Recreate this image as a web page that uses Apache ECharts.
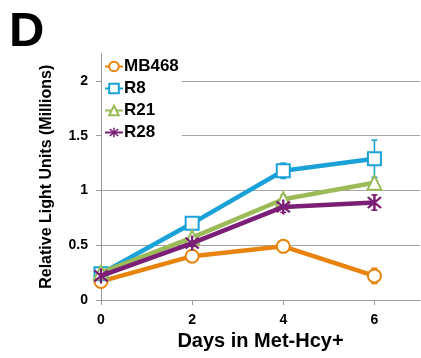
<!DOCTYPE html>
<html>
<head>
<meta charset="utf-8">
<script src="https://cdn.jsdelivr.net/npm/echarts@6/dist/echarts.min.js"></script>
<style>
  html, body { margin: 0; padding: 0; background: #fff; }
  #chart { width: 421px; height: 358px; }
</style>
</head>
<body>
<div id="chart"></div>
<script>
// Days in Met-Hcy+ medium
const days = [0, 2, 4, 6];
const xTicks = [0, 2, 4, 6];
const yTicks = [0, 0.5, 1, 1.5, 2];

// Relative light units (millions), mean values per line
const seriesNames = ['MB468', 'R8', 'R21', 'R28'];
const mb468 = [0.17, 0.40, 0.49, 0.22];
const r8 = [0.24, 0.70, 1.18, 1.29];
const r21 = [0.25, 0.57, 0.92, 1.07];
const r28 = [0.22, 0.52, 0.85, 0.89];

// Error (± one deviation) at each day
const mb468Err = [0.02, 0.02, 0.02, 0.07];
const r8Err = [0.02, 0.03, 0.07, 0.17];
const r21Err = [0.02, 0.03, 0.04, 0.03];
const r28Err = [0.02, 0.03, 0.05, 0.07];

const colors = ['#E8840E', '#19A1D8', '#9BBB59', '#7A1E76'];
const FONT = '"Liberation Sans", Arial, sans-serif';

// asterisk marker: vertical bar plus two diagonals
const asterisk = 'path://M-1,-8 L1,-8 L1,8 L-1,8 Z ' +
  'M-6.5,-5 L-5,-6.5 L6.5,5 L5,6.5 Z ' +
  'M5,-6.5 L6.5,-5 L-5,6.5 L-6.5,5 Z';

const symbols = ['circle', 'rect', 'triangle', asterisk];
const symbolSizes = [13, 13, 14, 15];
const values = [mb468, r8, r21, r28];
const errors = [mb468Err, r8Err, r21Err, r28Err];

function pairs(vals) {
  return days.map((d, i) => [d, vals[i]]);
}

function errData(vals, errs) {
  return days.map((d, i) => [d, vals[i] - errs[i], vals[i] + errs[i]]);
}

function errRender(color) {
  return function (params, api) {
    const x = api.value(0);
    const lo = api.coord([x, api.value(1)]);
    const hi = api.coord([x, api.value(2)]);
    const cap = 3;
    const style = { stroke: color, lineWidth: 1.6 };
    return {
      type: 'group',
      children: [
        { type: 'line', shape: { x1: lo[0], y1: lo[1], x2: hi[0], y2: hi[1] }, style: style },
        { type: 'line', shape: { x1: hi[0] - cap, y1: hi[1], x2: hi[0] + cap, y2: hi[1] }, style: style },
        { type: 'line', shape: { x1: lo[0] - cap, y1: lo[1], x2: lo[0] + cap, y2: lo[1] }, style: style }
      ]
    };
  };
}

const series = [];
seriesNames.forEach((name, k) => {
  series.push({
    name: name + ' err',
    type: 'custom',
    renderItem: errRender(colors[k]),
    data: errData(values[k], errors[k]),
    encode: { x: 0, y: [1, 2] },
    z: 1,
    silent: true
  });
});
seriesNames.forEach((name, k) => {
  const isStar = k === 3;
  series.push({
    name: name,
    type: 'line',
    data: pairs(values[k]),
    symbol: symbols[k],
    symbolSize: symbolSizes[k],
    showAllSymbol: true,
    lineStyle: { color: colors[k], width: 4.5 },
    itemStyle: isStar
      ? { color: colors[k], borderWidth: 0 }
      : { color: '#fff', borderColor: colors[k], borderWidth: 2 },
    z: 2 + k,
    animation: false
  });
});

const chart = echarts.init(document.getElementById('chart'), null, { renderer: 'canvas' });
chart.setOption({
  animation: false,
  backgroundColor: '#fff',
  title: {
    text: 'D',
    left: 4,
    top: 3,
    textStyle: { fontFamily: FONT, fontWeight: 'bold', fontSize: 49, color: '#000' }
  },
  grid: { left: 101, right: 1, top: 53.6, bottom: 58, containLabel: false },
  legend: {
    orient: 'vertical',
    left: 102,
    top: 56,
    itemWidth: 18,
    itemHeight: 12,
    itemGap: 5,
    padding: [2, 3, 2, 2],
    backgroundColor: '#fff',
    data: seriesNames,
    textStyle: { fontFamily: FONT, fontWeight: 'bold', fontSize: 17, color: '#000', padding: [0, 0, 0, -4] }
  },
  xAxis: {
    type: 'value',
    min: 0,
    max: 7,
    interval: 1,
    name: 'Days in Met-Hcy+',
    nameLocation: 'middle',
    nameGap: 30,
    nameTextStyle: { fontFamily: FONT, fontWeight: 'bold', fontSize: 20, color: '#000' },
    axisLine: { lineStyle: { color: '#999', width: 1 } },
    axisTick: { show: true, length: 5, customValues: xTicks, lineStyle: { color: '#999' } },
    axisLabel: {
      customValues: xTicks,
      margin: 13,
      fontFamily: FONT, fontWeight: 'bold', fontSize: 14, color: '#000'
    },
    splitLine: { show: false }
  },
  yAxis: {
    type: 'value',
    min: 0,
    max: 2.25,
    interval: 0.5,
    name: 'Relative Light Units (Millions)',
    nameLocation: 'middle',
    nameGap: 46,
    nameTextStyle: { fontFamily: FONT, fontWeight: 'bold', fontSize: 16, color: '#000' },
    axisLine: { show: true, lineStyle: { color: '#999', width: 1 } },
    axisTick: { show: true, length: 5, customValues: yTicks, lineStyle: { color: '#999' } },
    axisLabel: {
      customValues: yTicks,
      margin: 13,
      fontFamily: FONT, fontWeight: 'bold', fontSize: 14, color: '#000'
    },
    splitLine: { show: true, showMinLine: false, showMaxLine: true, lineStyle: { color: '#A6A6A6', width: 1 } }
  },
  series: series
});
</script>
</body>
</html>
